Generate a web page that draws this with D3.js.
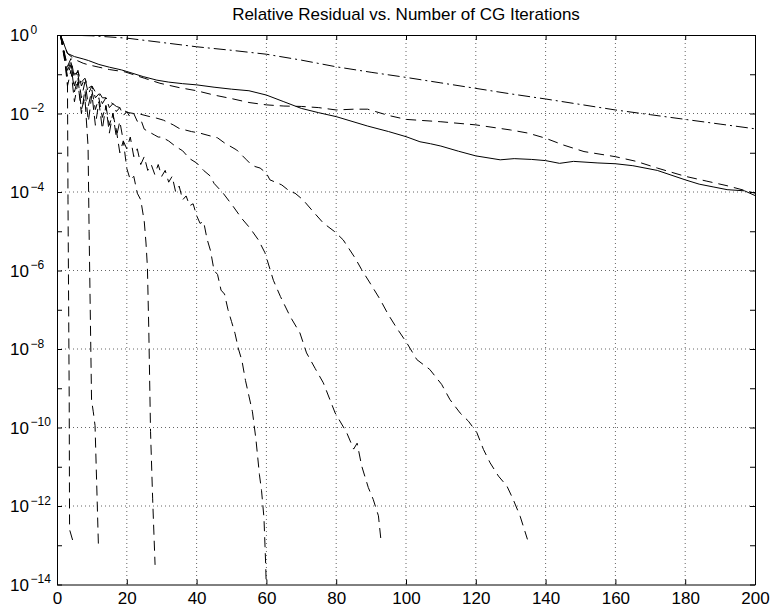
<!DOCTYPE html>
<html>
<head>
<meta charset="utf-8">
<script src="https://cdn.jsdelivr.net/npm/d3@7"></script>
<style>
body { margin: 0; background: #fff; overflow: hidden; }
#chart { display: block; }
svg text { font-family: "Liberation Sans", Arial, Helvetica, sans-serif; fill: #000; }
</style>
</head>
<body>
<svg id="chart" width="770" height="614"></svg>
<script>
// Data: [iteration, log10(relative residual)]
const titleText = "Relative Residual vs. Number of CG Iterations";
const xTicks = [0, 20, 40, 60, 80, 100, 120, 140, 160, 180, 200];
const yLabelExps = [0, -2, -4, -6, -8, -10, -12, -14];
const yTickExps = d3.range(0, -15, -1);

const dashDotRes = [[1,0],[10,-0.02],[20,-0.08],[30,-0.19],[40,-0.30],[50,-0.39],[60,-0.49],[70,-0.64],[80,-0.81],[90,-0.95],[100,-1.08],[110,-1.22],[120,-1.36],[130,-1.50],[140,-1.63],[150,-1.77],[160,-1.91],[170,-2.03],[180,-2.15],[190,-2.27],[200,-2.39]];

const solidRes = [[1,0],[3,-0.47],[5,-0.55],[7.5,-0.61],[9,-0.65],[12,-0.75],[15,-0.82],[18.5,-0.89],[20,-0.93],[24.7,-1.06],[28.6,-1.15],[32,-1.2],[36,-1.24],[40,-1.27],[45,-1.33],[50,-1.38],[55,-1.42],[60,-1.53],[65,-1.70],[70,-1.87],[75,-1.98],[80,-2.08],[89,-2.32],[95,-2.46],[100,-2.59],[104,-2.72],[107,-2.77],[110,-2.83],[115,-2.96],[120,-3.08],[127,-3.18],[131,-3.15],[136,-3.17],[140,-3.20],[144,-3.27],[148,-3.22],[155,-3.26],[160,-3.28],[165,-3.33],[172,-3.45],[180,-3.69],[184,-3.80],[188,-3.87],[192,-3.94],[197,-3.97],[200,-4.09]];

const dashedTopRes = [[1,0],[3,-0.47],[5,-0.62],[7.5,-0.72],[9,-0.76],[12,-0.82],[15,-0.88],[19.5,-0.94],[25,-1.1],[29.5,-1.23],[35,-1.34],[40,-1.42],[45,-1.53],[50,-1.62],[55,-1.72],[60,-1.78],[65,-1.81],[70,-1.82],[75,-1.85],[80,-1.91],[85,-1.89],[89,-1.89],[95,-2.05],[100,-2.15],[110,-2.21],[120,-2.29],[130,-2.42],[135,-2.5],[140,-2.63],[145,-2.8],[151,-2.97],[160,-3.10],[166,-3.22],[172,-3.39],[180,-3.60],[186,-3.72],[192,-3.84],[200,-4.03]];

const resA = [[1,0],[2,-0.4],[3,-1.2],[3.15,-4.2],[3.5,-9.3],[3.6,-12.6],[4.9,-13.0]];

const resB = [[1,0],[2,-0.55],[3,-1.05],[4,-0.75],[5,-1.45],[6,-1.1],[7,-1.9],[8,-1.6],[8.9,-2.84],[9.2,-5.0],[9.9,-9.3],[10.4,-9.6],[10.9,-9.95],[11.9,-13.1]];

const resC = [[1,0],[2,-0.5],[3,-0.9],[4,-0.7],[5,-1.3],[6,-1.0],[7,-1.6],[8,-1.2],[9,-1.8],[10,-1.4],[11,-1.9],[12,-1.6],[13,-2.1],[14,-1.8],[15,-2.3],[16,-2.0],[17,-2.42],[18,-3.0],[19,-2.7],[20,-3.4],[21,-3.69],[22,-3.6],[23,-4.03],[24,-4.2],[25,-4.75],[25.5,-5.3],[25.9,-5.9],[26.3,-7.5],[26.8,-10.1],[27.4,-11.8],[28.1,-13.5]];

const resD = [[1,0],[2,-0.45],[3,-1.3],[4,-0.9],[5,-1.7],[6,-1.2],[7,-2.0],[8,-1.4],[9,-2.2],[10,-1.5],[11,-2.3],[12,-1.7],[13,-2.4],[14,-1.8],[15,-2.5],[16,-2.0],[17,-2.6],[18,-2.2],[19,-2.7],[20,-2.9],[21,-2.6],[22,-3.1],[23,-2.9],[24,-3.3],[25,-3.1],[26,-3.45],[27,-3.3],[28,-3.55],[29,-3.3],[30,-3.6],[31,-3.45],[32,-3.75],[33,-3.6],[34,-4.0],[35,-3.85],[36,-4.2],[37,-4.1],[38,-4.35],[39,-4.3],[40,-4.6],[41,-4.8],[42,-4.75],[43,-5.2],[44,-5.5],[45,-6.0],[46,-6.1],[47,-6.5],[48,-6.6],[49,-7.0],[50,-7.3],[51,-7.6],[52,-8.0],[53,-8.3],[54,-8.8],[55,-9.2],[56,-9.6],[57,-10.3],[58,-11.2],[58.6,-11.6],[59.3,-12.3],[59.8,-13.5],[60,-14.2]];

const resE = [[1,0],[2,-0.4],[3,-0.8],[4,-0.6],[5,-1.1],[6,-0.9],[7,-1.3],[8,-1.1],[9,-1.5],[10,-1.3],[11,-1.6],[12,-1.5],[13,-1.75],[14,-1.6],[15,-1.85],[16,-1.75],[17,-1.95],[18,-1.85],[19,-2.05],[20,-1.95],[21,-2.1],[22,-2.0],[23,-2.2],[24,-2.15],[25,-2.4],[26,-2.45],[27,-2.5],[28,-2.55],[29,-2.6],[30,-2.6],[32,-2.7],[34,-2.84],[36,-2.95],[38,-3.15],[40,-3.26],[42,-3.45],[44,-3.6],[45,-3.78],[47.6,-4.03],[50.5,-4.37],[52.9,-4.67],[55.3,-4.92],[57.7,-5.22],[59.6,-5.55],[62,-6.25],[64,-6.66],[66.8,-7.17],[69.6,-7.59],[71.5,-8.1],[74,-8.5],[76.3,-8.86],[79.7,-9.63],[83,-10.13],[85,-10.55],[86,-10.4],[87.3,-10.98],[89.2,-11.53],[90.6,-11.83],[92.1,-12.25],[92.8,-12.85]];

const resF = [[1,0],[2,-0.45],[3,-0.8],[4,-0.7],[5,-1.0],[6,-0.95],[7,-1.2],[8,-1.1],[9,-1.35],[10,-1.3],[11,-1.45],[12,-1.45],[13,-1.6],[14,-1.6],[15,-1.7],[16,-1.75],[17,-1.82],[18,-1.85],[19,-1.9],[20,-1.97],[22,-2.0],[24,-2.02],[26.6,-2.08],[28.6,-2.12],[30.5,-2.17],[33.3,-2.29],[35,-2.38],[38.5,-2.46],[41,-2.5],[43,-2.55],[46,-2.62],[48,-2.75],[51.5,-2.93],[54.3,-3.18],[55.3,-3.27],[56.7,-3.35],[58.2,-3.39],[60,-3.52],[61,-3.69],[63.4,-3.78],[64.4,-3.82],[66.8,-3.99],[68.2,-4.03],[70.5,-4.2],[73.4,-4.5],[76.3,-4.79],[79.7,-5.02],[82,-5.22],[85.4,-5.68],[87.3,-5.98],[89.7,-6.32],[92.6,-6.74],[94.9,-7.12],[97.3,-7.46],[100.2,-7.84],[103.1,-8.27],[106.8,-8.52],[110.2,-8.9],[112.6,-9.29],[115.5,-9.63],[117.9,-9.84],[120.3,-10.13],[122.2,-10.56],[124.1,-10.9],[126.5,-11.24],[128.9,-11.49],[130.7,-11.83],[132.7,-12.26],[134.8,-12.85]];

const series = [
  { data: dashDotRes, dash: "12,4,2,4" },
  { data: solidRes, dash: null },
  { data: dashedTopRes, dash: "10,6" },
  { data: resA, dash: "10,6" },
  { data: resB, dash: "10,6" },
  { data: resC, dash: "10,6" },
  { data: resD, dash: "10,6" },
  { data: resE, dash: "10,6" },
  { data: resF, dash: "10,6" }
];

// chart setup
const svg = d3.select("#chart");
const margin = { top: 35, right: 15, bottom: 29.5, left: 57 };
const width = +svg.attr("width");
const height = +svg.attr("height");
const innerWidth = width - margin.left - margin.right;
const innerHeight = height - margin.top - margin.bottom;

const g = svg.append("g").attr("transform", `translate(${margin.left},${margin.top})`);
const xScale = d3.scaleLinear().domain([0, 200]).range([0, innerWidth]);
const yScale = d3.scaleLog().domain([1e-14, 1]).range([innerHeight, 0]);

// title
svg.append("text")
  .attr("x", margin.left + innerWidth / 2)
  .attr("y", 20)
  .attr("text-anchor", "middle")
  .style("font-size", "17px")
  .text(titleText);

// dotted grid
const grid = g.append("g").attr("stroke", "#666").attr("stroke-width", 1).attr("stroke-dasharray", "1,3");
grid.selectAll("line.gx")
  .data(xTicks.slice(1, -1))
  .join("line")
  .attr("x1", d => xScale(d)).attr("x2", d => xScale(d))
  .attr("y1", 0).attr("y2", innerHeight);
grid.selectAll("line.gy")
  .data(yLabelExps.slice(1, -1))
  .join("line")
  .attr("y1", d => yScale(Math.pow(10, d))).attr("y2", d => yScale(Math.pow(10, d)))
  .attr("x1", 0).attr("x2", innerWidth);

// curves
svg.append("clipPath").attr("id", "plotClip")
  .append("rect").attr("width", innerWidth).attr("height", innerHeight);

const line = d3.line()
  .x(d => xScale(d[0]))
  .y(d => yScale(Math.pow(10, d[1])));

g.append("g").attr("clip-path", "url(#plotClip)")
  .selectAll("path")
  .data(series)
  .join("path")
  .attr("fill", "none")
  .attr("stroke", "#000")
  .attr("stroke-width", 1)
  .attr("stroke-dasharray", d => d.dash)
  .attr("d", d => line(d.data));

// axes with inward ticks
const tickVals = yTickExps.map(e => Math.pow(10, e));
const xAxisGroup = g.append("g").attr("transform", `translate(0,${innerHeight})`)
  .call(d3.axisBottom(xScale).tickValues(xTicks).tickSize(-5).tickSizeOuter(0).tickPadding(8));
xAxisGroup.selectAll("text").style("font-size", "17px").attr("dy", "0.7em");

g.append("g")
  .call(d3.axisTop(xScale).tickValues(xTicks).tickSize(-5).tickSizeOuter(0).tickFormat(""));
g.append("g")
  .call(d3.axisLeft(yScale).tickValues(tickVals).tickSize(-5).tickSizeOuter(0).tickFormat(""));
g.append("g").attr("transform", `translate(${innerWidth},0)`)
  .call(d3.axisRight(yScale).tickValues(tickVals).tickSize(-5).tickSizeOuter(0).tickFormat(""));

g.selectAll(".domain").attr("stroke", "#000");
g.selectAll(".tick line").attr("stroke", "#000");

// y tick labels: 10 with superscript exponent
const yLabels = svg.append("g");
yLabelExps.forEach(e => {
  const ty = margin.top + yScale(Math.pow(10, e));
  yLabels.append("text")
    .attr("x", 29).attr("y", ty + 6)
    .attr("text-anchor", "end")
    .style("font-size", "17px")
    .text("10");
  yLabels.append("text")
    .attr("x", 30.5).attr("y", ty - 1.5)
    .style("font-size", "12px")
    .text(e === 0 ? "0" : "\u2212" + Math.abs(e));
});
</script>
</body>
</html>
